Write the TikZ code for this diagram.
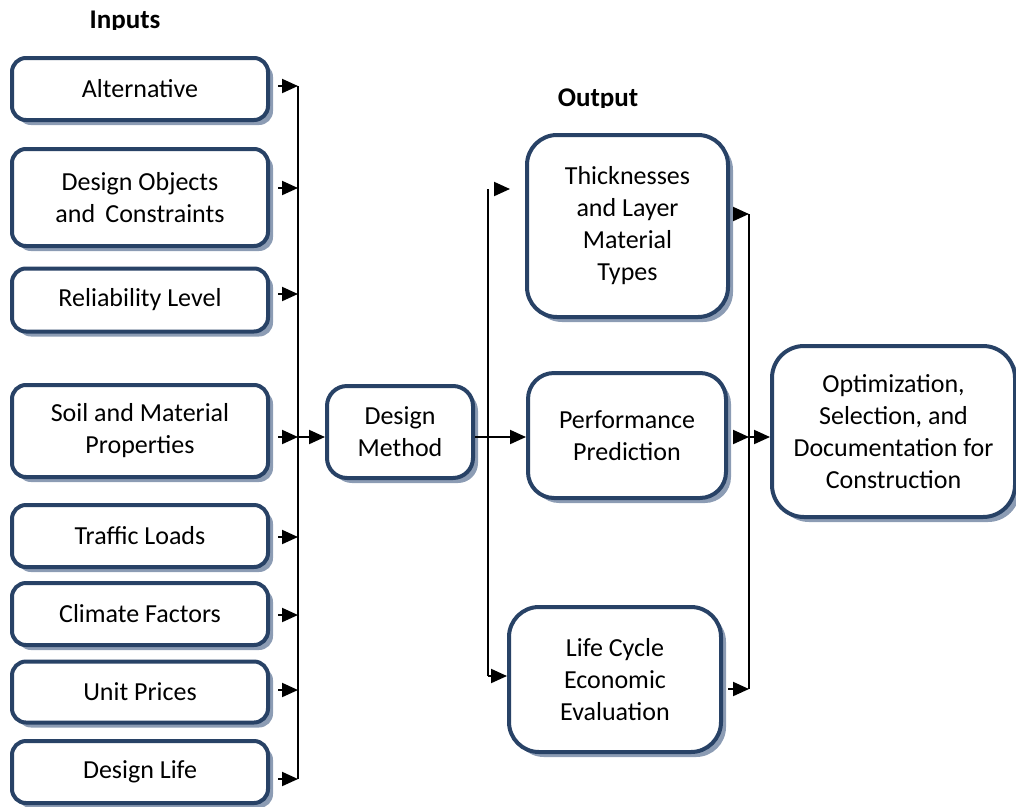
\documentclass[tikz,border=0pt]{standalone}
\usepackage{fontspec}
\setmainfont{Carlito}
\usetikzlibrary{shadows,arrows.meta,calc}
\definecolor{boxline}{RGB}{40,66,102}
\definecolor{boxshadow}{RGB}{140,156,180}
\tikzset{
  box/.style={draw=boxline, line width=4pt, fill=white, align=center,
    font=\fontsize{26}{32}\selectfont, inner sep=0pt,
    drop shadow={shadow xshift=5pt, shadow yshift=-5pt, fill=boxshadow, opacity=1}},
  inbox/.style={box, minimum width=256pt, rounded corners=14pt},
  conn/.style={line width=2pt, black},
  arr/.style={conn, -{Triangle[length=16pt,width=14pt]}},
  title/.style={font=\fontsize{27}{32}\selectfont\bfseries, inner sep=0pt}
}
\begin{document}
\begin{tikzpicture}[x=1pt,y=-1pt]
\useasboundingbox (0,0) rectangle (1016,806);
% titles (descenders clipped as in the reference)
\begin{scope}
\clip (0,0) rectangle (300,29);
\node[title, anchor=base] (tin) at (125,28) {Inputs};
\end{scope}
\begin{scope}
\clip (500,80) rectangle (700,107);
\node[title, anchor=base] (tout) at (598,106) {Output};
\end{scope}
% inputs
\node[inbox, minimum height=62pt] (alt) at (140,89) {Alternative};
\node[inbox, minimum height=97pt] (obj) at (140,197.5) {Design Objects\\and\, Constraints};
\node[inbox, minimum height=63pt] (rel) at (140,300) {Reliability Level};
\node[inbox, minimum height=92pt] (soil) at (140,431) {Soil and Material\\Properties};
\node[inbox, minimum height=62pt] (traf) at (140,536) {Traffic Loads};
\node[inbox, minimum height=62pt] (clim) at (140,614) {Climate Factors};
\node[inbox, minimum height=61pt] (unit) at (140,692) {Unit Prices};
\node[inbox, minimum height=62pt] (life) at (140,772) {Design Life};
% design method
\node[box, minimum width=146pt, minimum height=92pt, rounded corners=20pt] (dm) at (400,432) {Design\\Method};
% outputs
\node[box, minimum width=201pt, minimum height=182pt, rounded corners=30pt] (thk) at (627.5,226) {Thicknesses\\and Layer\\Material\\Types};
\node[box, minimum width=198pt, minimum height=125pt, rounded corners=26pt] (perf) at (627,435.5) {Performance\\Prediction};
\node[box, minimum width=212pt, minimum height=145pt, rounded corners=30pt] (lcc) at (615,679.5) {Life Cycle\\Economic\\Evaluation};
\node[box, minimum width=243pt, minimum height=171pt, rounded corners=32pt] (opt) at (893.5,431.5) {Optimization,\\Selection, and\\Documentation for\\Construction};
% input bus
\coordinate (b1) at (298,86);
\coordinate (b2) at (298,188);
\coordinate (b3) at (298,294);
\coordinate (b4) at (298,437);
\coordinate (b5) at (298,537);
\coordinate (b6) at (298,615);
\coordinate (b7) at (298,690);
\coordinate (b8) at (298,779);
\draw[conn] (b1) -- (b8);
\foreach \b/\n in {b1/alt,b2/obj,b3/rel,b4/soil,b5/traf,b6/clim,b7/unit,b8/life}{
  \draw[arr] ($(\b)+(-20,0)$) -- (\b);
}
\draw[arr] (b4) -- (b4 -| dm.west);
% output bus
\coordinate (c1) at (488,189);
\coordinate (c2) at (488,437);
\coordinate (c3) at (488,676);
\draw[conn] (dm.east |- c2) -- (c2);
\draw[conn] (c1) -- (c3);
\draw[arr] ($(c1)+(6,0)$) -- ($(c1)+(22,0)$);
\draw[arr] (c2) -- (c2 -| perf.west);
\draw[arr] (c3) -- (c3 -| lcc.west);
% result bus
\coordinate (d1) at (749,214);
\coordinate (d2) at (749,437);
\coordinate (d3) at (749,689);
\draw[conn] (d1) -- (d3);
\draw[arr] ($(d1)+(-15,0)$) -- (d1);
\draw[arr] ($(d2)+(-15,0)$) -- (d2);
\draw[arr] ($(d3)+(-21,0)$) -- (d3);
\draw[arr] (d2) -- (d2 -| opt.west);
\end{tikzpicture}
\end{document}
